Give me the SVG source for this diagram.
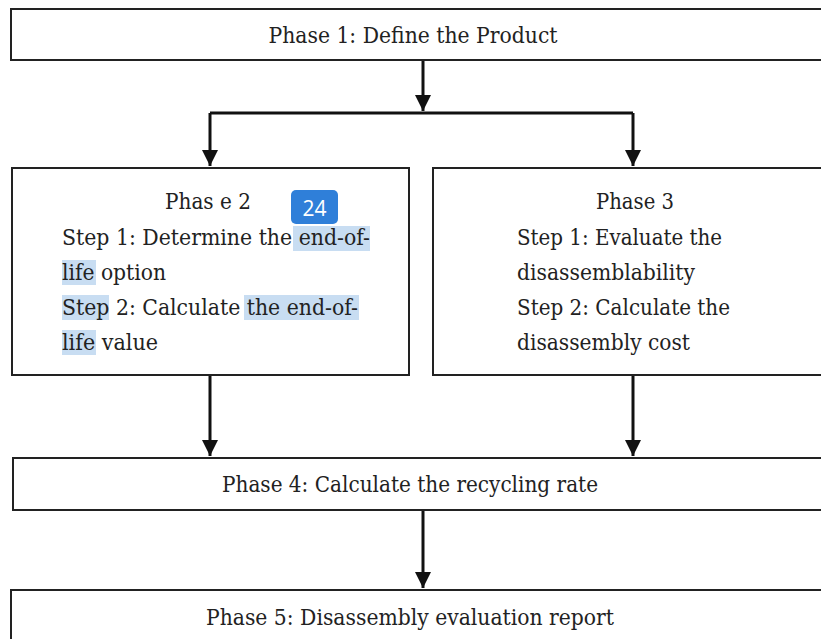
<svg xmlns="http://www.w3.org/2000/svg" width="821" height="639" viewBox="0 0 821 639">
<defs>
<style>
.box{fill:#fff;stroke:#222;stroke-width:2}
.t{font-family:'DejaVu Serif',serif;font-size:23px;fill:#222}
.c{text-anchor:middle}
.hl{fill:#c8ddf2}
.conn{fill:none;stroke:#111;stroke-width:3}
</style>
<marker id="ah" viewBox="0 0 10 10" refX="10" refY="5" markerWidth="5.5" markerHeight="5.5" markerUnits="strokeWidth" orient="auto">
<path d="M0,0 L10,5 L0,10 Z" fill="#111"/>
</marker>
</defs>
<rect width="821" height="639" fill="#fff"/>
<g id="connectors">
<path class="conn" d="M423,60 V111" marker-end="url(#ah)"/>
<path class="conn" d="M210,113 H633"/>
<path class="conn" d="M210,113 V166" marker-end="url(#ah)"/>
<path class="conn" d="M633,113 V166" marker-end="url(#ah)"/>
<path class="conn" d="M210,376 V456" marker-end="url(#ah)"/>
<path class="conn" d="M633,376 V456" marker-end="url(#ah)"/>
<path class="conn" d="M423,511 V588" marker-end="url(#ah)"/>
</g>
<g id="phase1">
<rect class="box" x="11" y="9" width="830" height="51"/>
<text class="t c" x="413" y="43" textLength="289" lengthAdjust="spacingAndGlyphs">Phase 1: Define the Product</text>
</g>
<g id="phase2">
<rect class="box" x="12" y="168" width="397" height="207"/>
<rect class="hl" x="293" y="226" width="77" height="25"/>
<rect class="hl" x="62" y="260" width="34" height="25"/>
<rect class="hl" x="62" y="295" width="47" height="25"/>
<rect class="hl" x="244" y="295" width="115" height="25"/>
<rect class="hl" x="62" y="330" width="34" height="25"/>
<text class="t c" x="208" y="209" textLength="86" lengthAdjust="spacingAndGlyphs">Phas e 2</text>
<text class="t" x="62" y="245" textLength="308" lengthAdjust="spacingAndGlyphs">Step 1: Determine the end-of-</text>
<text class="t" x="62" y="280" textLength="104" lengthAdjust="spacingAndGlyphs">life option</text>
<text class="t" x="62" y="315" textLength="296" lengthAdjust="spacingAndGlyphs">Step 2: Calculate the end-of-</text>
<text class="t" x="62" y="350" textLength="96" lengthAdjust="spacingAndGlyphs">life value</text>
<rect x="291" y="190" width="47" height="34" rx="5" fill="#2f7fd9"/>
<text x="314.5" y="216" text-anchor="middle" font-family="'Open Sans',sans-serif" font-size="21" fill="#fff">24</text>
</g>
<g id="phase3">
<rect class="box" x="433" y="168" width="408" height="207"/>
<text class="t c" x="635" y="209" textLength="78" lengthAdjust="spacingAndGlyphs">Phase 3</text>
<text class="t" x="517" y="245" textLength="205" lengthAdjust="spacingAndGlyphs">Step 1: Evaluate the</text>
<text class="t" x="517" y="280" textLength="178" lengthAdjust="spacingAndGlyphs">disassemblability</text>
<text class="t" x="517" y="315" textLength="213" lengthAdjust="spacingAndGlyphs">Step 2: Calculate the</text>
<text class="t" x="517" y="350" textLength="173" lengthAdjust="spacingAndGlyphs">disassembly cost</text>
</g>
<g id="phase4">
<rect class="box" x="13" y="458" width="828" height="52"/>
<text class="t c" x="410" y="492" textLength="376" lengthAdjust="spacingAndGlyphs">Phase 4: Calculate the recycling rate</text>
</g>
<g id="phase5">
<rect class="box" x="11" y="590" width="830" height="60"/>
<text class="t c" x="410" y="625" textLength="408" lengthAdjust="spacingAndGlyphs">Phase 5: Disassembly evaluation report</text>
</g>
</svg>
